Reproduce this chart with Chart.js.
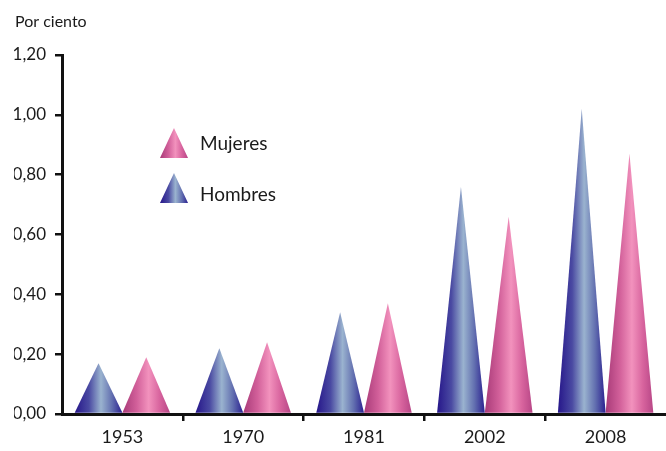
<!DOCTYPE html>
<html lang="es">
<head>
  <meta charset="UTF-8">
  <title>Por ciento - Mujeres y Hombres</title>
  <script src="https://cdn.jsdelivr.net/npm/chart.js"></script>
  <style>
    html, body { margin: 0; padding: 0; background: #fff; }
    #wrap { width: 666px; height: 451px; position: relative; }
  </style>
</head>
<body>
  <div id="wrap">
    <canvas id="cono"></canvas>
  </div>
  <script>
    // datos
    const years = ["1953", "1970", "1981", "2002", "2008"];
    const hombres = [0.17, 0.22, 0.34, 0.76, 1.02];
    const mujeres = [0.19, 0.24, 0.37, 0.66, 0.87];
    const yTicks = [0, 0.2, 0.4, 0.6, 0.8, 1.0, 1.2];

    const fontFam = 'Lato, "Open Sans", sans-serif';

    // gradientes horizontales de cada cono
    const stops = {
      Hombres: [[0, "#26168a"], [0.3, "#4a4aa2"], [0.55, "#9ab3cf"], [0.78, "#6370b0"], [1, "#2a2090"]],
      Mujeres: [[0, "#a83a78"], [0.3, "#d2609a"], [0.55, "#f292bd"], [0.78, "#d8649e"], [1, "#b74686"]]
    };

    function coneFill(ctx, x0, x1, name) {
      const g = ctx.createLinearGradient(x0, 0, x1, 0);
      stops[name].forEach(s => g.addColorStop(s[0], s[1]));
      return g;
    }

    function drawCone(ctx, cx, top, base, w, name) {
      ctx.beginPath();
      ctx.moveTo(cx - w / 2, base);
      ctx.lineTo(cx, top);
      ctx.lineTo(cx + w / 2, base);
      ctx.closePath();
      ctx.fillStyle = coneFill(ctx, cx - w / 2, cx + w / 2, name);
      ctx.fill();
    }

    const conePlugin = {
      id: 'cones',
      afterDatasetsDraw(chart) {
        const ctx = chart.ctx;
        ctx.save();
        chart.data.datasets.forEach((ds, i) => {
          const meta = chart.getDatasetMeta(i);
          meta.data.forEach(bar => {
            drawCone(ctx, bar.x, bar.y, bar.base, bar.width, ds.label);
          });
        });

        // leyenda (nombre, arriba del cono, linea base del texto)
        const a = chart.chartArea;
        const lx = a.left + 98, lw = 28;
        const items = [["Mujeres", a.top + 73, a.top + 95], ["Hombres", a.top + 118, a.top + 146]];
        items.forEach(it => {
          drawCone(ctx, lx + lw / 2, it[1], it[1] + 30, lw, it[0]);
          ctx.fillStyle = "#1a1a1a";
          ctx.font = "19px " + fontFam;
          ctx.textBaseline = "alphabetic";
          ctx.textAlign = "left";
          ctx.fillText(it[0], lx + 40, it[2]);
        });

        // titulo del eje
        ctx.font = "16px " + fontFam;
        ctx.textBaseline = "middle";
        ctx.fillText("Por ciento", 15, 22);
        ctx.restore();
      }
    };

    new Chart(document.getElementById('cono'), {
      type: 'bar',
      data: {
        labels: years,
        datasets: [
          { label: "Hombres", data: hombres, backgroundColor: "rgba(0,0,0,0)", borderWidth: 0,
            barPercentage: 1.0, categoryPercentage: 0.79 },
          { label: "Mujeres", data: mujeres, backgroundColor: "rgba(0,0,0,0)", borderWidth: 0,
            barPercentage: 1.0, categoryPercentage: 0.79 }
        ]
      },
      options: {
        responsive: true,
        maintainAspectRatio: false,
        animation: false,
        layout: { padding: { left: 14, top: 55, right: 0, bottom: 0 } },
        plugins: {
          legend: { display: false },
          tooltip: { enabled: false },
          title: { display: false }
        },
        scales: {
          x: {
            afterFit(s) { s.height = 37; },
            grid: {
              offset: true,
              drawOnChartArea: false,
              drawTicks: true,
              tickLength: 7,
              lineWidth: 2.5,
              color: c => (c.type !== 'tick' || c.index === 0) ? "rgba(0,0,0,0)" : "#111"
            },
            border: { display: true, color: "#111", width: 3 },
            ticks: { color: "#1a1a1a", font: { size: 18, family: fontFam }, padding: 5 }
          },
          y: {
            min: 0,
            max: 1.2,
            afterFit(s) { s.width = 48; },
            afterBuildTicks(s) { s.ticks = yTicks.map(v => ({ value: v })); },
            grid: {
              drawOnChartArea: false,
              drawTicks: true,
              tickLength: 7,
              lineWidth: 2.5,
              color: "#111"
            },
            border: { display: true, color: "#111", width: 3 },
            ticks: {
              color: "#1a1a1a",
              font: { size: 17, family: fontFam },
              padding: 9,
              callback: v => v.toFixed(2).replace(".", ",")
            }
          }
        }
      },
      plugins: [conePlugin]
    });
  </script>
</body>
</html>
